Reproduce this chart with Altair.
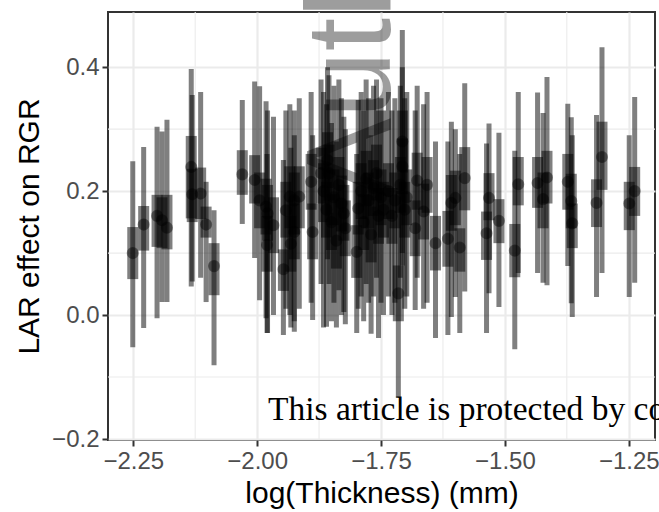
import altair as alt
import pandas as pd

# log(Thickness) values
x_vals = [-2.251, -2.229, -2.202, -2.192, -2.182, -2.133, -2.131, -2.114, -2.103, -2.087,
          -2.030, -2.005, -1.995, -1.982, -1.979, -1.967, -1.980, -1.947, -1.934, -1.925,
          -1.915, -1.932, -1.925, -1.891, -1.888, -1.871, -1.942, -1.866, -1.860, -1.855,
          -1.850, -1.845, -1.840, -1.835, -1.830, -1.825, -1.822, -1.858, -1.799, -1.796,
          -1.790, -1.785, -1.780, -1.775, -1.770, -1.765, -1.759, -1.755, -1.750, -1.745,
          -1.735, -1.728, -1.722, -1.715, -1.711, -1.707, -1.707, -1.702, -1.698, -1.681,
          -1.677, -1.664, -1.657, -1.640, -1.615, -1.608, -1.600, -1.591, -1.581, -1.537,
          -1.532, -1.512, -1.480, -1.473, -1.434, -1.423, -1.415, -1.373, -1.366, -1.364,
          -1.315, -1.304, -1.249, -1.238]
# LAR effect (point estimate)
effect = [0.100, 0.146, 0.160, 0.153, 0.141, 0.239, 0.195, 0.196, 0.146, 0.079,
          0.227, 0.218, 0.185, 0.175, 0.164, 0.145, 0.113, 0.074, 0.191, 0.185,
          0.191, 0.115, 0.134, 0.215, 0.134, 0.229, 0.169, 0.200, 0.170, 0.229,
          0.150, 0.190, 0.120, 0.210, 0.180, 0.164, 0.140, 0.250, 0.102, 0.172,
          0.200, 0.150, 0.220, 0.185, 0.130, 0.205, 0.229, 0.160, 0.190, 0.170,
          0.200, 0.160, 0.185, 0.035, 0.210, 0.280, 0.240, 0.170, 0.190, 0.140,
          0.217, 0.167, 0.210, 0.116, 0.123, 0.181, 0.189, 0.109, 0.221, 0.132,
          0.189, 0.152, 0.104, 0.211, 0.213, 0.187, 0.222, 0.215, 0.184, 0.148,
          0.181, 0.255, 0.180, 0.200]
# outer interval (thin bar)
lo_outer = [-0.052, -0.021, -0.005, 0.021, 0.021, 0.046, 0.054, 0.060, 0.021, -0.081,
            0.147, 0.092, 0.024, -0.005, -0.029, 0.000, -0.029, -0.032, 0.000, -0.027,
            0.010, -0.020, -0.010, 0.020, -0.008, 0.050, 0.010, -0.020, -0.019, 0.050,
            -0.010, 0.020, -0.020, 0.040, 0.000, 0.005, -0.015, 0.090, -0.029, 0.010,
            0.030, -0.010, 0.050, 0.020, -0.030, 0.030, 0.060, -0.037, 0.020, 0.000,
            0.030, 0.000, 0.020, -0.134, 0.060, 0.100, 0.080, 0.010, 0.030, 0.008,
            0.060, 0.010, 0.020, -0.037, -0.032, -0.003, 0.029, -0.029, 0.038, -0.029,
            0.035, 0.013, -0.055, 0.068, 0.068, 0.052, 0.048, 0.079, 0.019, -0.003,
            0.029, 0.068, 0.029, 0.052]
hi_outer = [0.248, 0.271, 0.304, 0.296, 0.315, 0.397, 0.355, 0.360, 0.215, 0.169,
            0.347, 0.377, 0.369, 0.345, 0.330, 0.320, 0.260, 0.250, 0.340, 0.330,
            0.350, 0.270, 0.290, 0.360, 0.290, 0.380, 0.330, 0.360, 0.340, 0.387,
            0.310, 0.370, 0.280, 0.380, 0.350, 0.320, 0.300, 0.400, 0.260, 0.347,
            0.360, 0.330, 0.380, 0.350, 0.290, 0.370, 0.380, 0.330, 0.350, 0.330,
            0.360, 0.330, 0.350, 0.200, 0.370, 0.460, 0.400, 0.350, 0.360, 0.330,
            0.370, 0.340, 0.360, 0.280, 0.280, 0.312, 0.300, 0.260, 0.374, 0.277,
            0.309, 0.294, 0.265, 0.360, 0.359, 0.326, 0.384, 0.341, 0.319, 0.290,
            0.323, 0.432, 0.290, 0.352]
# inner interval (thick bar)
lo_inner = [0.058, 0.104, 0.110, 0.108, 0.106, 0.156, 0.150, 0.155, 0.125, 0.032,
            0.194, 0.180, 0.140, 0.130, 0.120, 0.100, 0.070, 0.039, 0.140, 0.130,
            0.140, 0.070, 0.090, 0.170, 0.090, 0.180, 0.125, 0.150, 0.125, 0.185,
            0.105, 0.145, 0.075, 0.165, 0.135, 0.120, 0.095, 0.205, 0.060, 0.130,
            0.155, 0.105, 0.175, 0.140, 0.085, 0.160, 0.185, 0.115, 0.145, 0.125,
            0.155, 0.115, 0.140, -0.010, 0.165, 0.230, 0.195, 0.125, 0.145, 0.095,
            0.170, 0.122, 0.165, 0.072, 0.078, 0.136, 0.145, 0.070, 0.169, 0.089,
            0.153, 0.116, 0.061, 0.177, 0.173, 0.140, 0.180, 0.170, 0.140, 0.108,
            0.142, 0.202, 0.137, 0.160]
hi_inner = [0.142, 0.176, 0.194, 0.190, 0.194, 0.289, 0.236, 0.238, 0.175, 0.116,
            0.266, 0.258, 0.230, 0.220, 0.210, 0.190, 0.160, 0.106, 0.240, 0.230,
            0.240, 0.160, 0.180, 0.260, 0.180, 0.270, 0.215, 0.245, 0.215, 0.275,
            0.195, 0.235, 0.165, 0.255, 0.225, 0.210, 0.185, 0.295, 0.145, 0.215,
            0.245, 0.195, 0.265, 0.230, 0.175, 0.250, 0.275, 0.205, 0.235, 0.215,
            0.245, 0.205, 0.230, 0.080, 0.255, 0.330, 0.285, 0.215, 0.235, 0.185,
            0.262, 0.212, 0.255, 0.160, 0.168, 0.226, 0.233, 0.140, 0.271, 0.167,
            0.229, 0.187, 0.147, 0.255, 0.255, 0.230, 0.265, 0.260, 0.228, 0.180,
            0.219, 0.312, 0.215, 0.239]

x_ticks = [-2.25, -2.00, -1.75, -1.50, -1.25]
y_ticks = [-0.2, 0.0, 0.2, 0.4]
x_minor = [-2.125, -1.875, -1.625, -1.375]
y_minor = [-0.1, 0.1, 0.3]

df = pd.DataFrame({"x": x_vals, "y": effect, "lo95": lo_outer, "hi95": hi_outer,
                   "lo50": lo_inner, "hi50": hi_inner})

xs = alt.Scale(domain=[-2.301, -1.197], nice=False, zero=False)
ys = alt.Scale(domain=[-0.2016, 0.489], nice=False, zero=False)

base = alt.Chart(df)

xminor = alt.Chart(pd.DataFrame({"v": x_minor})).mark_rule(color="#ebebeb", strokeWidth=1.1).encode(
    x=alt.X("v:Q", scale=xs))
yminor = alt.Chart(pd.DataFrame({"v": y_minor})).mark_rule(color="#ebebeb", strokeWidth=1.1).encode(
    y=alt.Y("v:Q", scale=ys))

thin = base.mark_rule(color="black", opacity=0.5, strokeWidth=5).encode(
    x=alt.X("x:Q", scale=xs,
            axis=alt.Axis(values=x_ticks, format=".2f", title="log(Thickness) (mm)")),
    y=alt.Y("lo95:Q", scale=ys,
            axis=alt.Axis(values=y_ticks, format=".1f", title="LAR effect on RGR")),
    y2="hi95:Q",
)
thick = base.mark_rule(color="black", opacity=0.5, strokeWidth=11).encode(
    x=alt.X("x:Q", scale=xs), y=alt.Y("lo50:Q", scale=ys), y2="hi50:Q")
pts = base.mark_circle(size=115, color="black", opacity=0.45, stroke="black",
                       strokeWidth=1.4, strokeOpacity=0.85).encode(
    x=alt.X("x:Q", scale=xs), y=alt.Y("y:Q", scale=ys))

watermark = alt.Chart(pd.DataFrame({"t": ["Author Manuscript"]})).mark_text(
    angle=270, align="left", baseline="alphabetic", font="Liberation Sans",
    fontSize=120, color="black", opacity=0.38).encode(
    text="t:N", x=alt.value(282), y=alt.value(186))

notice = alt.Chart(pd.DataFrame({"t": ["This article is protected by copyright. All rights reserved"]})).mark_text(
    align="left", baseline="alphabetic", font="Liberation Serif", fontSize=33.5,
    color="black").encode(text="t:N", x=alt.value(160), y=alt.value(408))

chart = alt.layer(xminor, yminor, thin, thick, pts, watermark, notice).properties(
    width=547, height=428,
    autosize=alt.AutoSizeParams(type="none"),
    padding={"left": 108, "top": 12, "right": 4, "bottom": 72},
).configure_view(stroke="#333333", strokeWidth=2).configure_axis(
    grid=True, gridColor="#ebebeb", gridWidth=2.2, domain=False,
    tickColor="#333333", tickWidth=2, tickSize=6,
    labelColor="#4d4d4d", labelFont="Liberation Sans", labelFontSize=24,
    titleColor="black", titleFont="Liberation Sans", titleFontSize=30,
    titleFontWeight="normal", labelPadding=3,
).configure_axisX(titlePadding=5).configure_axisY(titlePadding=7)

chart.save("out.html", embed_options={"renderer": "svg", "actions": False})
